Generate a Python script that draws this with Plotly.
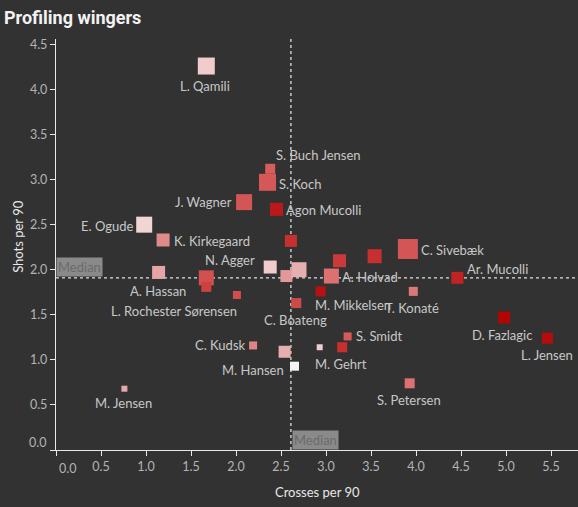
import numpy as np
import plotly.graph_objects as go

# ---- data ----
players = ["L. Qamili", "S. Buch Jensen", "S. Koch", "J. Wagner", "Agon Mucolli",
           "E. Ogude", "K. Kirkegaard", "", "A. Hassan", "", "L. Rochester Sørensen", "",
           "N. Agger", "", "", "", "", "C. Sivebæk", "A. Holvad", "Ar. Mucolli",
           "M. Mikkelsen", "T. Konaté", "C. Boateng", "D. Fazlagic", "L. Jensen",
           "S. Smidt", "", "M. Gehrt", "", "M. Hansen", "C. Kudsk", "M. Jensen",
           "S. Petersen"]
crosses = [1.67, 2.38, 2.35, 2.09, 2.45,
           0.98, 1.19, 2.61, 1.14, 1.67, 1.67, 2.01,
           2.38, 2.56, 2.70, 3.15, 3.54, 3.91, 3.06, 4.46,
           2.94, 3.97, 2.67, 4.98, 5.46,
           3.24, 2.93, 3.18, 2.54, 2.65, 2.19, 0.76,
           3.93]
shots = [4.26, 3.12, 2.97, 2.75, 2.67,
         2.50, 2.33, 2.32, 1.97, 1.91, 1.81, 1.72,
         2.03, 1.93, 2.00, 2.10, 2.15, 2.23, 1.93, 1.91,
         1.76, 1.76, 1.63, 1.47, 1.24,
         1.26, 1.14, 1.14, 1.09, 0.93, 1.16, 0.68,
         0.74]
volume = [17, 10, 17, 16, 13,
          16, 13, 12, 13, 15, 10, 8,
          13, 12, 15, 13, 14, 20, 15, 12,
          10, 9, 10, 12, 11,
          8, 6, 10, 12, 9, 8, 6,
          10]
intensity = [0.15, 0.62, 0.64, 0.65, 0.90,
             0.12, 0.45, 0.80, 0.35, 0.67, 0.73, 0.68,
             0.15, 0.40, 0.30, 0.76, 0.80, 0.65, 0.55, 0.86,
             0.93, 0.52, 0.70, 0.98, 0.95,
             0.63, 0.15, 0.80, 0.30, 0.00, 0.47, 0.33,
             0.55]
x_ticks = [0.0, 0.5, 1.0, 1.5, 2.0, 2.5, 3.0, 3.5, 4.0, 4.5, 5.0, 5.5]
y_ticks = [0.0, 0.5, 1.0, 1.5, 2.0, 2.5, 3.0, 3.5, 4.0, 4.5]

# label placement (data coordinates of label centres)
label_pos = {
    "L. Qamili": (1.65, 4.04), "S. Buch Jensen": (2.92, 3.27), "S. Koch": (2.71, 2.95),
    "J. Wagner": (1.64, 2.75), "Agon Mucolli": (2.97, 2.66), "E. Ogude": (0.567, 2.48),
    "K. Kirkegaard": (1.73, 2.32), "N. Agger": (1.93, 2.11), "A. Hassan": (1.13, 1.76),
    "L. Rochester Sørensen": (1.31, 1.54), "C. Sivebæk": (4.41, 2.22),
    "Ar. Mucolli": (4.90, 2.01), "A. Holvad": (3.49, 1.92), "M. Mikkelsen": (3.30, 1.61),
    "T. Konaté": (3.96, 1.58), "C. Boateng": (2.66, 1.44), "D. Fazlagic": (4.96, 1.28),
    "L. Jensen": (5.45, 1.05), "S. Smidt": (3.59, 1.26), "M. Gehrt": (3.17, 0.95),
    "M. Hansen": (2.19, 0.89), "C. Kudsk": (1.83, 1.16), "M. Jensen": (0.745, 0.52),
    "S. Petersen": (3.92, 0.55),
}

med_x = float(np.median(crosses))
med_y = float(np.median(shots))

BG = "#323232"
FONT = "Lato"
TICK_COLOR = "#b4b4b4"
colorscale = [[0.0, "#f5f5f5"], [0.15, "#f0cccc"], [0.35, "#e3a5a5"], [0.55, "#dd7070"],
              [0.65, "#d45555"], [0.8, "#c83030"], [1.0, "#b00000"]]

fig = go.Figure()
fig.add_trace(go.Scatter(
    x=crosses, y=shots, mode="markers", text=players,
    marker=dict(symbol="square", size=volume, color=intensity, colorscale=colorscale,
                cmin=0, cmax=1, line=dict(width=0), opacity=1),
    hoverinfo="text", showlegend=False))

X_MAX, Y_MAX = 5.8, 4.56

shapes = [
    dict(type="line", xref="x", yref="y", x0=med_x, x1=med_x, y0=0, y1=Y_MAX,
         line=dict(color="#e0e0e0", width=1.3, dash="dot"), layer="below"),
    dict(type="line", xref="x", yref="y", x0=0, x1=X_MAX, y0=med_y, y1=med_y,
         line=dict(color="#e0e0e0", width=1.3, dash="dot"), layer="below"),
]

annotations = []
for name, (lx, ly) in label_pos.items():
    annotations.append(dict(x=lx, y=ly, xref="x", yref="y", text=name, showarrow=False,
                            font=dict(family=FONT, size=13, color="#c8c8c8"),
                            xanchor="center", yanchor="middle"))

annotations += [
    dict(x=0, y=med_y, xref="x", yref="y", text="Median", showarrow=False,
         xanchor="left", yanchor="bottom", yshift=1, bgcolor="#8a8a8a", borderpad=1,
         font=dict(family=FONT, size=13, color="#6a6a6a")),
    dict(x=med_x, y=0, xref="x", yref="y", text="Median", showarrow=False,
         xanchor="left", yanchor="bottom", xshift=1, bgcolor="#8a8a8a", borderpad=1,
         font=dict(family=FONT, size=13, color="#6a6a6a")),
    dict(x=0.5, y=-0.102, xref="paper", yref="paper", text="Crosses per 90", showarrow=False,
         xanchor="center", yanchor="middle", font=dict(family=FONT, size=13, color="#e8e8e8")),
    dict(x=-0.0728, y=0.521, xref="paper", yref="paper", text="Shots per 90", showarrow=False,
         textangle=-90, xanchor="center", yanchor="middle",
         font=dict(family=FONT, size=13, color="#e8e8e8")),
    # the "0.0" labels sit nudged away from the corner, as in the reference
    dict(x=0, y=0, xref="x", yref="y", text=f"{x_ticks[0]:.1f}", showarrow=False,
         xanchor="center", yanchor="top", xshift=11, yshift=-9,
         font=dict(family=FONT, size=12.5, color=TICK_COLOR)),
    dict(x=0, y=0, xref="x", yref="y", text=f"{y_ticks[0]:.1f}", showarrow=False,
         xanchor="right", yanchor="middle", xshift=-8, yshift=8,
         font=dict(family=FONT, size=12.5, color=TICK_COLOR)),
]

axis_common = dict(showline=True, linecolor="#e8e8e8", linewidth=1.3, ticks="outside",
                   ticklen=5, tickwidth=1.3, tickcolor="#e8e8e8", showgrid=False,
                   zeroline=False, tickfont=dict(family=FONT, size=12.5, color=TICK_COLOR),
                   mirror=False, automargin=False)

fig.update_layout(
    width=578, height=507,
    margin=dict(l=56, r=0, t=39, b=57),
    paper_bgcolor=BG, plot_bgcolor=BG,
    title=dict(text="<b>Profiling wingers</b>", x=4 / 578, xref="container", xanchor="left",
               y=1 - 18 / 507, yref="container", yanchor="middle",
               font=dict(family="Roboto", size=18, color="#f2f2f2")),
    xaxis=dict(range=[0, X_MAX], tickvals=x_ticks,
               ticktext=[""] + [f"{v:.1f}" for v in x_ticks[1:]], **axis_common),
    yaxis=dict(range=[0, Y_MAX], tickvals=y_ticks,
               ticktext=[""] + [f"{v:.1f}" for v in y_ticks[1:]], **axis_common),
    shapes=shapes, annotations=annotations,
    font=dict(family=FONT),
)

fig.write_html("out.html", config={"displayModeBar": False},
               post_script="document.body.style.margin='0';document.body.style.background='#323232';")
